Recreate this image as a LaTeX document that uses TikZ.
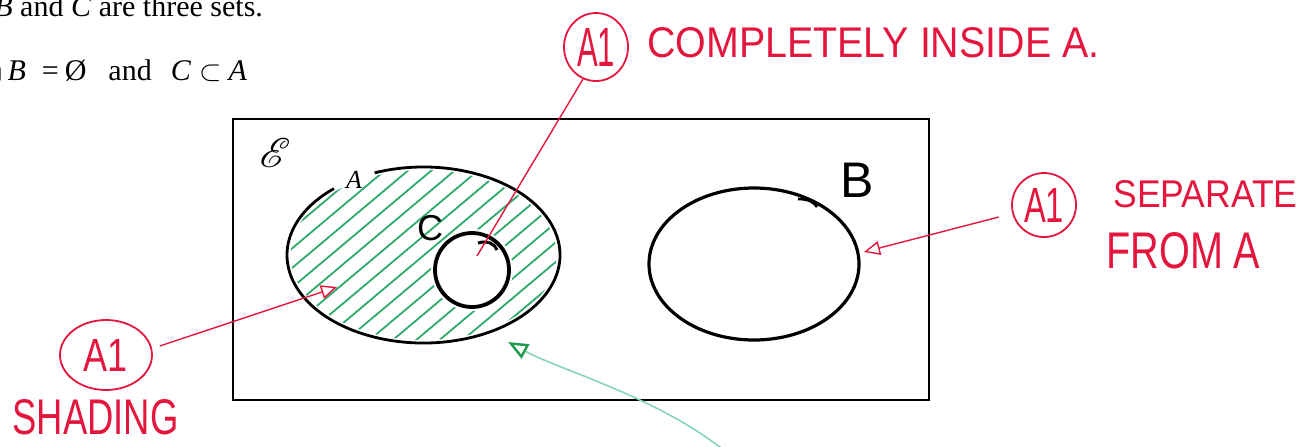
\documentclass[tikz,border=0pt]{standalone}
\usepackage{fontspec}
\usepackage{graphicx}
\usepackage{mathrsfs}
\usetikzlibrary{arrows.meta,shapes.geometric}
\setmainfont{Liberation Serif}
\newfontfamily\handfont{Liberation Sans}
\definecolor{markred}{HTML}{E3173E}
\definecolor{hatchgreen}{HTML}{2FAA6B}
\definecolor{pengreen}{HTML}{86D6B4}
\definecolor{tipgreen}{HTML}{1E9A4C}

\begin{document}
\begin{tikzpicture}[x=0.5pt, y=-0.5pt,
    setline/.style={draw=black, line width=1.4pt},
    redline/.style={draw=markred, line width=0.7pt},
    redmark/.style={ellipse, draw=markred, line width=0.9pt, inner sep=0pt, text=markred, font=\handfont},
    rednote/.style={text=markred, font=\handfont, inner sep=0pt, anchor=base west},
    hatch/.style={draw=hatchgreen, line width=0.9pt}]

  \useasboundingbox (0,0) rectangle (1316,446);

  % question text
  \node[anchor=base west, inner sep=0pt, font=\fontsize{15}{18}\selectfont] (lineOne) at (-6,16)
    {\textit{B} and \textit{C} are three sets.};
  \node[anchor=base west, inner sep=0pt, font=\fontsize{15}{18}\selectfont] (lineTwo) at (-17,80)
    {$\cap$\hspace{2.5pt}\textit{B}\hspace{8pt}=\hspace{3pt}Ø\hspace{11pt}and\hspace{9.5pt}\textit{C}\hspace{4pt}$\subset$\hspace{3.5pt}\textit{A}};

  % universal set
  \draw[line width=1pt] (233,119) rectangle (929,400);
  \node[font=\fontsize{20}{24}\selectfont] (univ) at (275,153) {$\mathscr{E}$};

  % shading of A outside C
  \begin{scope}
    \clip (423.5,255) ellipse [x radius=133, y radius=85];
    \foreach \i in {-7,...,7}
      \draw[hatch] ({423.5+\i*9.64-153},{255+\i*11.49+129}) -- ++(306,-257);
    \fill[white] (472,270) circle [radius=41];
  \end{scope}

  % set A, open where the label sits
  \draw[setline] (423.5,255) ++(-111:136.5 and 88)
    arc [start angle=-111, end angle=229, x radius=136.5, y radius=88];
  \node[font=\itshape\fontsize{13}{15}\selectfont] (labelA) at (354,180) {A};

  % set C
  \draw[setline, line width=1.9pt] (472,270) circle [radius=37];
  \draw[setline, line width=1.5pt] (478,243) .. controls (488,240) and (495,244) .. (497,250);
  \node[font=\handfont\fontsize{18}{20}\selectfont] (labelC) at (430,228) {C};

  % set B
  \draw[setline, line width=1.6pt] (754,264) ellipse [x radius=105, y radius=76];
  \draw[setline, line width=1.3pt] (798,199) .. controls (808,199) and (814,202) .. (817,207);
  \node[font=\handfont\fontsize{25}{28}\selectfont] (labelB) at (857,180) {B};

  % marker's notes
  \node[redmark, minimum width=32pt, minimum height=34pt] (markTop) at (596,47) {\resizebox{19pt}{19pt}{A1}};
  \node[rednote] (noteTop) at (647,57) {\resizebox{226pt}{15pt}{COMPLETELY INSIDE A.}};

  \node[redmark, minimum width=32pt, minimum height=32pt] (markRight) at (1044,205) {\resizebox{20pt}{17pt}{A1}};
  \node[rednote] (noteRight) at (1113,207) {\resizebox{92pt}{13.5pt}{SEPARATE}};
  \node[rednote] (noteRightTwo) at (1106,268) {\resizebox{77pt}{18pt}{FROM A}};

  \node[redmark, minimum width=46pt, minimum height=35pt] (markLeft) at (106,355) {\resizebox{22pt}{16pt}{A1}};
  \node[rednote] (noteLeft) at (12,434) {\resizebox{83pt}{17.5pt}{SHADING}};

  % connectors
  \coordinate (insideC) at (477,256);
  \coordinate (edgeB) at (864,252);
  \coordinate (shadeA) at (337,287);
  \coordinate (belowA) at (508,342);
  \coordinate (penStart) at (726,452);

  \draw[redline] (markTop.-112) -- (insideC);
  \draw[redline, shorten <=7pt, -{Triangle[open, length=8pt, width=7pt]}] (markRight.195) -- (edgeB);
  \draw[redline, shorten <=4pt, -{Triangle[open, length=8pt, width=7pt]}] (markLeft.8) -- (shadeA);
  \draw[draw=pengreen, line width=0.8pt, -{Triangle[open, length=10pt, width=8pt, color=tipgreen, line width=1.2pt]}]
    (penStart) .. controls (660,398) and (560,370) .. (belowA);
\end{tikzpicture}
\end{document}
